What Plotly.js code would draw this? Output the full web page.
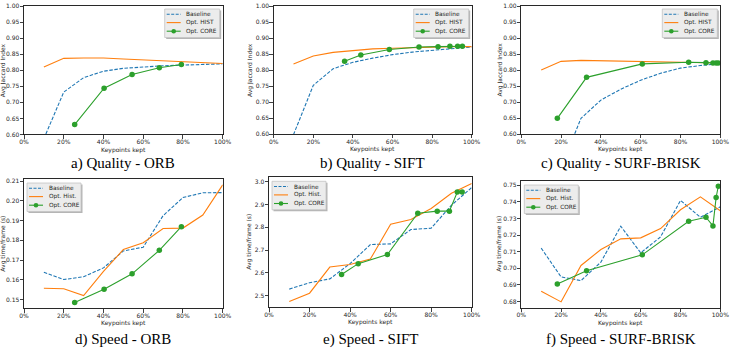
<!DOCTYPE html>
<html>
<head>
<meta charset="utf-8">
<script src="https://cdn.plot.ly/plotly-3.0.1.min.js"></script>
<style>
  html, body { margin: 0; padding: 0; background: #fff; }
  #chart { width: 733px; height: 348px; }
</style>
</head>
<body>
<div id="chart"></div>
<script>
// Share of keypoints kept (%) for the Baseline and Opt. HIST sweeps
const keptPct = [10, 20, 30, 40, 50, 60, 70, 80, 90, 100];

// Operating points reached by Opt. CORE (% of keypoints kept)
const orbCoreKept  = [25.5, 40.3, 54.4, 68.1, 79.2];
const siftCoreKept = [35.8, 44.0, 58.4, 73.4, 83.0, 89.0, 92.9, 95.3];
const surfCoreKept = [18.1, 32.8, 60.8, 84.1, 92.8, 96.3, 97.9, 99.0];

// Quality: average Jaccard index
const orbQualBase  = [0.587, 0.732, 0.777, 0.797, 0.806, 0.811, 0.814, 0.816, 0.818, 0.820];
const orbQualHist  = [0.810, 0.837, 0.838, 0.838, 0.835, 0.832, 0.828, 0.826, 0.823, 0.821];
const orbQualCore  = [0.631, 0.744, 0.787, 0.808, 0.818];

const siftQualBase = [0.598, 0.752, 0.804, 0.824, 0.837, 0.848, 0.856, 0.862, 0.867, 0.872];
const siftQualHist = [0.819, 0.844, 0.855, 0.861, 0.866, 0.868, 0.870, 0.872, 0.873, 0.873];
const siftQualCore = [0.827, 0.847, 0.864, 0.872, 0.873, 0.874, 0.874, 0.874];

const surfQualBase = [0.300, 0.496, 0.649, 0.706, 0.740, 0.768, 0.790, 0.806, 0.814, 0.820];
const surfQualHist = [0.800, 0.827, 0.830, 0.829, 0.827, 0.826, 0.825, 0.824, 0.823, 0.822];
const surfQualCore = [0.649, 0.777, 0.819, 0.824, 0.823, 0.822, 0.822, 0.822];

// Speed: average time per frame (s)
const orbSpeedBase  = [0.1638, 0.1601, 0.1615, 0.1660, 0.1746, 0.1765, 0.1925, 0.2017, 0.2041, 0.2042];
const orbSpeedHist  = [0.1557, 0.1554, 0.1520, 0.1642, 0.1753, 0.1788, 0.1860, 0.1862, 0.1928, 0.2081];
const orbSpeedCore  = [0.1485, 0.1552, 0.1630, 0.1749, 0.1869];

const siftSpeedBase = [2.528, 2.556, 2.573, 2.640, 2.724, 2.727, 2.790, 2.796, 2.897, 2.975];
const siftSpeedHist = [2.474, 2.510, 2.625, 2.636, 2.660, 2.814, 2.834, 2.883, 2.950, 2.993];
const siftSpeedCore = [2.592, 2.640, 2.680, 2.862, 2.871, 2.871, 2.955, 2.955];

const surfSpeedBase = [0.7121, 0.6948, 0.6926, 0.7037, 0.7253, 0.7093, 0.7189, 0.7408, 0.7307, 0.7370];
const surfSpeedHist = [0.6862, 0.6798, 0.7017, 0.7113, 0.7177, 0.7183, 0.7239, 0.7352, 0.7430, 0.7346];
const surfSpeedCore = [0.6906, 0.6985, 0.7081, 0.7283, 0.7307, 0.7255, 0.7426, 0.7494];

// Labels
const xTickVals   = [0, 20, 40, 60, 80, 100];
const xTickLabels = ['0%', '20%', '40%', '60%', '80%', '100%'];
const qualLegend  = ['Baseline', 'Opt. HIST', 'Opt. CORE'];
const speedLegend = ['Baseline', 'Opt. Hist.', 'Opt. CORE'];
const captions = ['a) Quality - ORB', 'b) Quality - SIFT', 'c) Quality - SURF-BRISK',
                  'd) Speed - ORB', 'e) Speed - SIFT', 'f) Speed - SURF-BRISK'];
const xTitle = 'Keypoints kept';
const yTitleQual = 'Avg Jaccard Index';
const yTitleSpeed = 'Avg time/frame (s)';

// ---------------------------------------------------------------------------
const W = 733, H = 348;
const C_BASE = '#1f77b4', C_HIST = '#ff7f0e', C_CORE = '#2ca02c';
const FONT = 'DejaVu Sans, sans-serif';
const TEXT = '#262626';

// Panel frames in page pixels, plus axis settings
const panels = [
  { box: {l: 24,    r: 222.7, t: 6,     b: 134.5}, range: [0.6, 1.0],       dtick: 0.05, fmt: '.2f', yTitle: yTitleQual,  yTitleX: 3,
    legend: qualLegend,  corner: 'tr', capY: 163, coreX: orbCoreKept,  base: orbQualBase,   hist: orbQualHist,   core: orbQualCore },
  { box: {l: 273.7, r: 471.7, t: 6,     b: 134},   range: [0.6, 1.0],       dtick: 0.05, fmt: '.2f', yTitle: yTitleQual,  yTitleX: 250,
    legend: qualLegend,  corner: 'tr', capY: 163, coreX: siftCoreKept, base: siftQualBase,  hist: siftQualHist,  core: siftQualCore },
  { box: {l: 521.3, r: 720.3, t: 6,     b: 134},   range: [0.6, 1.0],       dtick: 0.05, fmt: '.2f', yTitle: yTitleQual,  yTitleX: 499.5,
    legend: qualLegend,  corner: 'tr', capY: 163, coreX: surfCoreKept, base: surfQualBase,  hist: surfQualHist,  core: surfQualCore },
  { box: {l: 24,    r: 222.7, t: 179,   b: 308.3}, range: [0.1455, 0.2111], dtick: 0.01, fmt: '.2f', yTitle: yTitleSpeed, yTitleX: 3,
    legend: speedLegend, corner: 'tl', capY: 339, coreX: orbCoreKept,  base: orbSpeedBase,  hist: orbSpeedHist,  core: orbSpeedCore },
  { box: {l: 269,   r: 471.7, t: 177.3, b: 307.3}, range: [2.448, 3.02],    dtick: 0.1,  fmt: '.1f', yTitle: yTitleSpeed, yTitleX: 249.5,
    legend: speedLegend, corner: 'tl', capY: 339, coreX: siftCoreKept, base: siftSpeedBase, hist: siftSpeedHist, core: siftSpeedCore },
  { box: {l: 521.3, r: 720.3, t: 181,   b: 307.7}, range: [0.6763, 0.7525], dtick: 0.01, fmt: '.2f', yTitle: yTitleSpeed, yTitleX: 499.5,
    legend: speedLegend, corner: 'tl', capY: 339, coreX: surfCoreKept, base: surfSpeedBase, hist: surfSpeedHist, core: surfSpeedCore }
];

const px = x => x / W;
const py = y => 1 - y / H;

const traces = [];
const shapes = [];
const annotations = [];
const layout = {
  width: W, height: H,
  margin: {l: 0, r: 0, t: 0, b: 0},
  paper_bgcolor: '#fff', plot_bgcolor: '#fff',
  showlegend: false,
  font: {family: FONT, size: 6, color: TEXT}
};

panels.forEach((p, i) => {
  const sfx = i === 0 ? '' : String(i + 1);
  const xa = 'x' + sfx, ya = 'y' + sfx;

  traces.push({ x: keptPct, y: p.base, xaxis: xa, yaxis: ya, type: 'scatter', mode: 'lines',
    name: p.legend[0], line: {color: C_BASE, width: 1.1, dash: '3.5px,1.6px'} });
  traces.push({ x: keptPct, y: p.hist, xaxis: xa, yaxis: ya, type: 'scatter', mode: 'lines',
    name: p.legend[1], line: {color: C_HIST, width: 1.1} });
  traces.push({ x: p.coreX, y: p.core, xaxis: xa, yaxis: ya, type: 'scatter', mode: 'lines+markers',
    name: p.legend[2], line: {color: C_CORE, width: 1.1}, marker: {color: C_CORE, size: 5.5} });

  const common = {
    showline: true, mirror: true, linecolor: '#111', linewidth: 0.9,
    ticks: 'outside', ticklen: 3.5, tickwidth: 0.8, tickcolor: '#111',
    tickfont: {family: FONT, size: 6, color: TEXT},
    showgrid: false, zeroline: false, fixedrange: true, automargin: false
  };
  layout['xaxis' + sfx] = Object.assign({}, common, {
    domain: [px(p.box.l), px(p.box.r)], anchor: ya, range: [0, 100],
    tickmode: 'array', tickvals: xTickVals, ticktext: xTickLabels, ticklabelstandoff: -2
  });
  layout['yaxis' + sfx] = Object.assign({}, common, {
    domain: [py(p.box.b), py(p.box.t)], anchor: xa, range: p.range,
    dtick: p.dtick, tick0: 0, tickformat: p.fmt, ticklabelstandoff: -1
  });

  // Axis titles
  annotations.push({ xref: 'paper', yref: 'paper', x: px((p.box.l + p.box.r) / 2), y: py(p.box.b + 15),
    xanchor: 'center', yanchor: 'middle', showarrow: false, text: xTitle,
    font: {family: FONT, size: 6, color: TEXT} });
  annotations.push({ xref: 'paper', yref: 'paper', x: px(p.yTitleX), y: py((p.box.t + p.box.b) / 2),
    xanchor: 'center', yanchor: 'middle', showarrow: false, text: p.yTitle, textangle: -90,
    font: {family: FONT, size: 6, color: TEXT} });

  // Caption under each panel
  annotations.push({ xref: 'paper', yref: 'paper', x: px((p.box.l + p.box.r) / 2), y: py(p.capY),
    xanchor: 'center', yanchor: 'middle', showarrow: false, text: captions[i],
    font: {family: 'Liberation Serif, Times New Roman, serif', size: 15, color: '#000'} });

  // Legend box, drawn inside the panel corner
  const lw = p.corner === 'tr' ? 55 : 54, lh = 28.5;
  const L = p.corner === 'tr' ? p.box.r - 3 - lw : p.box.l + 3;
  const T = p.box.t + (p.corner === 'tr' ? 3 : 4);
  shapes.push({ type: 'rect', xref: 'paper', yref: 'paper', x0: px(L + 1.5), x1: px(L + lw + 1.5),
    y0: py(T + 1.5), y1: py(T + lh + 1.5), fillcolor: 'rgba(120,120,120,0.55)', line: {width: 0}, layer: 'above' });
  shapes.push({ type: 'rect', xref: 'paper', yref: 'paper', x0: px(L), x1: px(L + lw),
    y0: py(T), y1: py(T + lh), fillcolor: '#ececec', line: {color: '#c4c4c4', width: 0.8}, layer: 'above' });
  const rows = [T + 5.2, T + 13.6, T + 22.2];
  const styles = [
    {color: C_BASE, dash: '3px,1.5px'},
    {color: C_HIST, dash: 'solid'},
    {color: C_CORE, dash: 'solid'}
  ];
  rows.forEach((ry, k) => {
    shapes.push({ type: 'line', xref: 'paper', yref: 'paper', x0: px(L + 2), x1: px(L + 16),
      y0: py(ry), y1: py(ry), line: {color: styles[k].color, width: 1.1, dash: styles[k].dash}, layer: 'above' });
    annotations.push({ xref: 'paper', yref: 'paper', x: px(L + 19.5), y: py(ry), xanchor: 'left', yanchor: 'middle',
      showarrow: false, text: p.legend[k], font: {family: FONT, size: 5.8, color: TEXT} });
  });
  const mx = L + 9, my = rows[2], r = 2.3;
  shapes.push({ type: 'circle', xref: 'paper', yref: 'paper', x0: px(mx - r), x1: px(mx + r),
    y0: py(my + r), y1: py(my - r), fillcolor: C_CORE, line: {width: 0}, layer: 'above' });
});

layout.shapes = shapes;
layout.annotations = annotations;

Plotly.newPlot('chart', traces, layout, {staticPlot: true, displayModeBar: false});
</script>
</body>
</html>
